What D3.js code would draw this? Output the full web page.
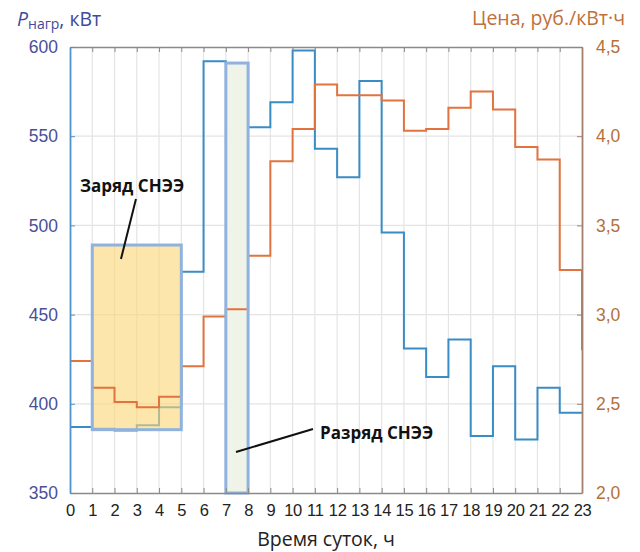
<!DOCTYPE html>
<html>
<head>
<meta charset="utf-8">
<script src="https://cdn.jsdelivr.net/npm/d3@7"></script>
<style>
  html, body { margin: 0; padding: 0; background: #fff; }
  svg { display: block; font-family: "Open Sans", "Noto Sans", sans-serif; }
</style>
</head>
<body>
<svg id="chart" width="640" height="552"></svg>
<script>
// Hours of the day (axis ticks)
const hours = d3.range(0, 24);
const hourLabels = hours.map(String);

// Load power per hour interval [h, h+1), kW
const load = [387, 386, 385, 388, 398, 474, 592, 591, 555, 569, 598, 543, 527,
              581, 496, 431, 415, 436, 382, 421, 380, 409, 395];

// Electricity price per hour interval [h, h+1), rub/kWh (last value at hour 23)
const price = [2.74, 2.59, 2.51, 2.48, 2.54, 2.71, 2.99, 3.03, 3.33, 3.86, 4.04,
               4.29, 4.23, 4.23, 4.20, 4.03, 4.04, 4.16, 4.25, 4.15, 3.94, 3.87,
               3.25, 2.80];

// Left / right axis ticks
const loadTicks = [350, 400, 450, 500, 550, 600];
const loadTickLabels = ["350", "400", "450", "500", "550", "600"];
const priceTicks = [2.0, 2.5, 3.0, 3.5, 4.0, 4.5];
const priceTickLabels = ["2,0", "2,5", "3,0", "3,5", "4,0", "4,5"];

// Storage charge / discharge blocks: [hour from, hour to, kW low, kW high]
const chargeBlock = [1, 5, 385.5, 489];
const dischargeBlock = [7, 8, 350, 591];

const svg = d3.select("#chart");
const L = 70, R = 582, T = 47, B = 493;

const x = d3.scaleLinear().domain([0, 23]).range([L, R]);
const yL = d3.scaleLinear().domain([350, 600]).range([B, T]);
const yR = d3.scaleLinear().domain([2.0, 4.5]).range([B, T]);

const gridColor = "#e4e4e4";
const blue = "#3a8cc4";
const orange = "#e2733f";
const boxStroke = "#90b2de";

// Grid
svg.append("g").selectAll("line").data(hours.slice(1, 23)).join("line")
  .attr("x1", d => x(d)).attr("x2", d => x(d))
  .attr("y1", T).attr("y2", B)
  .attr("stroke", gridColor).attr("stroke-width", 1.2);
svg.append("g").selectAll("line").data(loadTicks.slice(1, 5)).join("line")
  .attr("x1", L).attr("x2", R)
  .attr("y1", d => yL(d)).attr("y2", d => yL(d))
  .attr("stroke", gridColor).attr("stroke-width", 1.2);

// Discharge block fill
svg.append("rect")
  .attr("x", x(dischargeBlock[0])).attr("width", x(dischargeBlock[1]) - x(dischargeBlock[0]))
  .attr("y", yL(dischargeBlock[3])).attr("height", yL(dischargeBlock[2]) - yL(dischargeBlock[3]))
  .attr("fill", "#eff3e8");

// Load line
const loadPts = load.map((v, i) => [i, v]).concat([[23, load[load.length - 1]]]);
const loadLine = d3.line().x(d => x(d[0])).y(d => yL(d[1])).curve(d3.curveStepAfter);
svg.append("path").attr("d", loadLine(loadPts))
  .attr("fill", "none").attr("stroke", blue).attr("stroke-width", 2);

// Charge block fill (translucent over the load line)
svg.append("rect")
  .attr("x", x(chargeBlock[0])).attr("width", x(chargeBlock[1]) - x(chargeBlock[0]))
  .attr("y", yL(chargeBlock[3])).attr("height", yL(chargeBlock[2]) - yL(chargeBlock[3]))
  .attr("fill", "#fcd778").attr("fill-opacity", 0.62);

// Price line
const pricePts = price.map((v, i) => [i, v]);
const priceLine = d3.line().x(d => x(d[0])).y(d => yR(d[1])).curve(d3.curveStepAfter);
svg.append("path").attr("d", priceLine(pricePts))
  .attr("fill", "none").attr("stroke", orange).attr("stroke-width", 2);

// Block borders
[chargeBlock, dischargeBlock].forEach(b => {
  svg.append("rect")
    .attr("x", x(b[0])).attr("width", x(b[1]) - x(b[0]))
    .attr("y", yL(b[3])).attr("height", yL(b[2]) - yL(b[3]))
    .attr("fill", "none").attr("stroke", boxStroke).attr("stroke-width", 3);
});

// Axes
const bottomAxis = d3.axisBottom(x).tickValues(hours).tickFormat((d, i) => hourLabels[i])
  .tickSizeInner(-5).tickSizeOuter(0).tickPadding(11);
const gB = svg.append("g").attr("transform", `translate(0,${B})`).call(bottomAxis);
gB.select(".domain").attr("stroke", "#8a8a8a").attr("stroke-width", 1.5);
gB.selectAll(".tick line").attr("stroke", "#8a8a8a");
gB.selectAll("text").attr("fill", "#222").attr("font-size", 16.5)
  .attr("letter-spacing", -0.3);

const topAxis = d3.axisTop(x).tickValues(hours).tickFormat("")
  .tickSizeInner(-5).tickSizeOuter(0);
const gT = svg.append("g").attr("transform", `translate(0,${T})`).call(topAxis);
gT.select(".domain").attr("stroke", "#8a8a8a").attr("stroke-width", 1.5);
gT.selectAll(".tick line").attr("stroke", "#8a8a8a");

const leftAxis = d3.axisLeft(yL).tickValues(loadTicks).tickFormat((d, i) => loadTickLabels[i])
  .tickSizeInner(-5).tickSizeOuter(0).tickPadding(12);
const gL = svg.append("g").attr("transform", `translate(${L},0)`).call(leftAxis);
gL.select(".domain").attr("stroke", "#4f93cc").attr("stroke-width", 1.8);
gL.selectAll(".tick line").attr("stroke", "#4f93cc");
gL.selectAll("text").attr("fill", "#4a4f98").attr("font-size", 17.5);

const rightAxis = d3.axisRight(yR).tickValues(priceTicks).tickFormat((d, i) => priceTickLabels[i])
  .tickSizeInner(-5).tickSizeOuter(0).tickPadding(14);
const gR = svg.append("g").attr("transform", `translate(${R},0)`).call(rightAxis);
gR.select(".domain").attr("stroke", "#a3806e").attr("stroke-width", 1.8);
gR.selectAll(".tick line").attr("stroke", "#a3806e");
gR.selectAll("text").attr("fill", "#b5703a").attr("font-size", 17.5);

// Axis titles
const lt = svg.append("text").attr("x", 17).attr("y", 26)
  .attr("fill", "#3f4a9c").attr("font-size", 19.5);
lt.append("tspan").attr("font-style", "italic").text("P");
lt.append("tspan").attr("font-size", 14).attr("dy", 3).text("нагр");
lt.append("tspan").attr("dy", -3).text(", кВт");

svg.append("text").attr("x", 472).attr("y", 25)
  .attr("fill", "#c0703a").attr("font-size", 19.5).text("Цена, руб./кВт·ч");

svg.append("text").attr("x", (L + R) / 2).attr("y", 546)
  .attr("text-anchor", "middle").attr("fill", "#222").attr("font-size", 19.5)
  .text("Время суток, ч");

// Annotations
svg.append("text").attr("x", 80).attr("y", 192)
  .attr("font-weight", "bold").attr("font-size", 17).attr("fill", "#111")
  .text("Заряд СНЭЭ");
svg.append("line").attr("x1", 136).attr("y1", 199).attr("x2", 121).attr("y2", 259)
  .attr("stroke", "#111").attr("stroke-width", 2);

svg.append("text").attr("x", 320).attr("y", 439)
  .attr("font-weight", "bold").attr("font-size", 17).attr("fill", "#111")
  .text("Разряд СНЭЭ");
svg.append("line").attr("x1", 236).attr("y1", 452).attr("x2", 313).attr("y2", 429)
  .attr("stroke", "#111").attr("stroke-width", 2);
</script>
</body>
</html>
